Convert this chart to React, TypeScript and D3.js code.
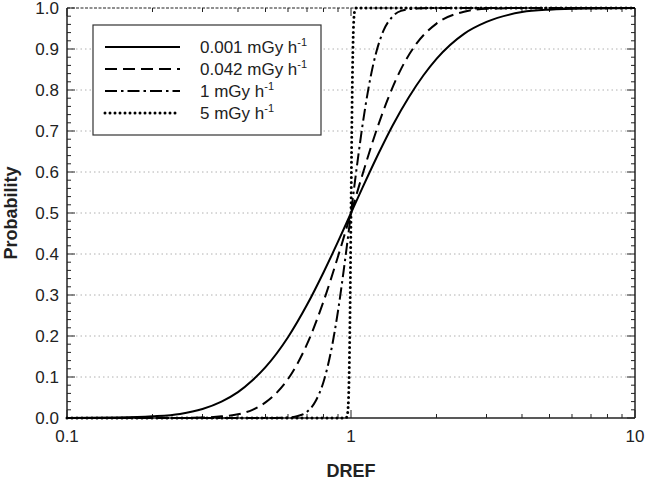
import React from 'react';
import * as d3 from 'd3';

// values (x = DREF, y = probability)
const solidX = [0.1, 0.15, 0.2, 0.25, 0.3, 0.35, 0.4, 0.45, 0.5, 0.6, 0.7, 0.8, 0.9, 1.0, 1.1, 1.25, 1.4, 1.6, 1.8, 2.0, 2.5, 3.0, 4.0, 5.0, 7.0, 10];
const solidY = [0.0, 0.001, 0.004, 0.01, 0.022, 0.04, 0.063, 0.092, 0.124, 0.197, 0.276, 0.355, 0.43, 0.5, 0.563, 0.645, 0.713, 0.783, 0.836, 0.876, 0.937, 0.966, 0.99, 0.996, 0.999, 1.0];

const dashX = [0.1, 0.2, 0.25, 0.3, 0.35, 0.4, 0.45, 0.5, 0.55, 0.6, 0.7, 0.8, 0.9, 1.0, 1.1, 1.2, 1.35, 1.5, 1.7, 2.0, 2.5, 3.0, 4.0, 10];
const dashY = [0.0, 0.0, 0.0, 0.001, 0.004, 0.009, 0.02, 0.038, 0.063, 0.095, 0.18, 0.284, 0.394, 0.5, 0.596, 0.68, 0.779, 0.851, 0.913, 0.962, 0.991, 0.998, 1.0, 1.0];

const dashDotX = [0.1, 0.5, 0.6, 0.65, 0.7, 0.75, 0.8, 0.85, 0.9, 0.95, 1.0, 1.05, 1.1, 1.15, 1.2, 1.3, 1.4, 1.5, 1.7, 2.0, 10];
const dashDotY = [0.0, 0.0, 0.001, 0.005, 0.015, 0.041, 0.088, 0.162, 0.261, 0.378, 0.5, 0.616, 0.718, 0.801, 0.865, 0.944, 0.979, 0.993, 0.999, 1.0, 1.0];

const dotX = [0.1, 0.96, 0.97, 0.98, 0.99, 1.0, 1.01, 1.02, 1.03, 1.04, 10];
const dotY = [0.0, 0.0, 0.006, 0.046, 0.2, 0.5, 0.797, 0.951, 0.993, 1.0, 1.0];

const legendLabels = ['0.001 mGy h', '0.042 mGy h', '1 mGy h', '5 mGy h'];
const xTickLabels = ['0.1', '1', '10'];
const yTickValues = [0, 0.1, 0.2, 0.3, 0.4, 0.5, 0.6, 0.7, 0.8, 0.9, 1.0];

const FONT = '"Liberation Sans", Arial, sans-serif';

export default function App() {
    const left = 67, right = 635, top = 8, bottom = 418;

    const x = d3.scaleLog().domain([0.1, 10]).range([left, right]);
    const y = d3.scaleLinear().domain([0, 1]).range([bottom, top]);

    const line = d3.line<[number, number]>()
        .x(d => x(d[0]))
        .y(d => y(d[1]))
        .curve(d3.curveMonotoneX);

    const zip = (xs: number[], ys: number[]) => xs.map((v, i) => [v, ys[i]] as [number, number]);

    const series = [
        { data: zip(solidX, solidY), dash: null, width: 2, cap: 'butt' },
        { data: zip(dashX, dashY), dash: '12,6', width: 2, cap: 'butt' },
        { data: zip(dashDotX, dashDotY), dash: '12,4,2.5,4', width: 2, cap: 'butt' },
        { data: zip(dotX, dotY), dash: '0,5', width: 3, cap: 'round' },
    ];

    // minor ticks
    const xMinor: number[] = [];
    [0.1, 1].forEach(base => d3.range(2, 10).forEach(k => xMinor.push(base * k)));
    const yMinor = d3.range(0, 51).map(i => i * 0.02).filter(v => Math.round(v * 50) % 5 !== 0);

    const tickColor = '#222';

    return (
        <svg width={646} height={480} style={{ position: 'absolute', left: 0, top: 0, background: '#fff' }}
            fontFamily={FONT}>
            <rect x={0} y={0} width={646} height={480} fill="#fff" />

            {/* grid */}
            {yTickValues.filter(v => v > 0 && v < 1).map(v => (
                <line key={'g' + v} x1={left} x2={right} y1={y(v)} y2={y(v)}
                    stroke="#b0b0b0" strokeWidth={1} strokeDasharray="1.5,3" />
            ))}

            {/* frame */}
            <line x1={left} x2={left} y1={top} y2={bottom} stroke={tickColor} strokeWidth={1.5} />
            <line x1={right} x2={right} y1={top} y2={bottom} stroke={tickColor} strokeWidth={1.5} />
            <line x1={left} x2={right} y1={bottom} y2={bottom} stroke={tickColor} strokeWidth={1.5} />
            <line x1={left} x2={right} y1={top} y2={top} stroke={tickColor} strokeWidth={1.2} strokeDasharray="3,1.5" />

            {/* y ticks */}
            {yTickValues.map(v => (
                <g key={'yt' + v}>
                    <line x1={left} x2={left + 8} y1={y(v)} y2={y(v)} stroke={tickColor} />
                    <line x1={right} x2={right - 8} y1={y(v)} y2={y(v)} stroke={tickColor} />
                    <text x={59} y={y(v)} dy="0.36em" textAnchor="end" fontSize={17} fill="#222">
                        {v.toFixed(1)}
                    </text>
                </g>
            ))}
            {yMinor.map(v => (
                <g key={'ym' + v}>
                    <line x1={left} x2={left + 4} y1={y(v)} y2={y(v)} stroke={tickColor} />
                    <line x1={right} x2={right - 4} y1={y(v)} y2={y(v)} stroke={tickColor} />
                </g>
            ))}

            {/* x ticks */}
            {xTickLabels.map(t => (
                <g key={'xt' + t}>
                    <line x1={x(+t)} x2={x(+t)} y1={bottom} y2={bottom - 8} stroke={tickColor} />
                    <line x1={x(+t)} x2={x(+t)} y1={top} y2={top + 8} stroke={tickColor} />
                    <text x={x(+t)} y={442} textAnchor="middle" fontSize={17} fill="#222">{t}</text>
                </g>
            ))}
            {xMinor.map(v => (
                <g key={'xm' + v}>
                    <line x1={x(v)} x2={x(v)} y1={bottom} y2={bottom - 4} stroke={tickColor} />
                    <line x1={x(v)} x2={x(v)} y1={top} y2={top + 4} stroke={tickColor} />
                </g>
            ))}

            {/* curves */}
            {series.map((s, i) => (
                <path key={'s' + i} d={line(s.data) || ''} fill="none" stroke="#000"
                    strokeWidth={s.width} strokeDasharray={s.dash || undefined}
                    strokeLinecap={s.cap as any} />
            ))}

            {/* legend */}
            <rect x={93} y={25} width={228} height={110} fill="#fff" stroke="#333" strokeWidth={1.2} />
            {legendLabels.map((lab, i) => {
                const ly = 47 + i * 22;
                const s = series[i];
                return (
                    <g key={'l' + i}>
                        <line x1={105} x2={180} y1={ly} y2={ly} stroke="#000" strokeWidth={s.width}
                            strokeDasharray={s.dash || undefined} strokeLinecap={s.cap as any} />
                        <text x={200} y={ly} dy="0.36em" fontSize={17} fill="#222">
                            {lab}
                            <tspan dy={-7} fontSize={11}>-1</tspan>
                        </text>
                    </g>
                );
            })}

            {/* axis titles */}
            <text x={(left + right) / 2} y={477} textAnchor="middle" fontSize={18} fontWeight="bold" fill="#222">DREF</text>
            <text transform={`translate(17, ${(top + bottom) / 2}) rotate(-90)`} textAnchor="middle"
                fontSize={18} fontWeight="bold" fill="#222">Probability</text>
        </svg>
    );
}
